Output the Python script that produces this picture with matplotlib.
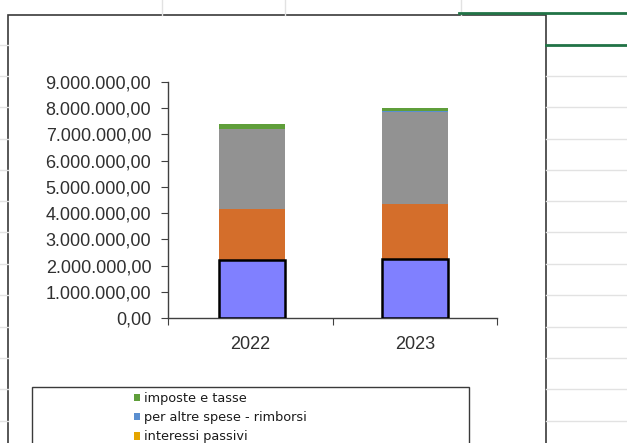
import matplotlib.pyplot as plt
from matplotlib.lines import Line2D
from matplotlib.patches import Rectangle, Patch
from matplotlib.ticker import FuncFormatter, MultipleLocator

plt.rcParams['font.family'] = ['Liberation Sans', 'DejaVu Sans']

years = ["2022", "2023"]
# stacked series, bottom to top (names of the lowest three are cut off in the source)
seriesNames = ["serie 1", "serie 2", "serie 3",
               "interessi passivi", "per altre spese - rimborsi", "imposte e tasse"]
redditi = [2200000, 2250000]
beniServizi = [1940000, 2100000]
trasferimenti = [3050000, 3490000]
interessi = [10000, 10000]
altreSpese = [10000, 60000]
imposte = [170000, 80000]
seriesVals = [redditi, beniServizi, trasferimenti, interessi, altreSpese, imposte]
seriesCols = ["#8080FF", "#D46E2B", "#929292", "#E5A500", "#5B8FD0", "#5F9E3A"]

W, H = 627, 443
fig = plt.figure(figsize=(W / 100, H / 100), dpi=100)

def px(x, y):
    return x / W, 1 - y / H

# spreadsheet background grid
gridCol = "#E2E2E2"
for y in [44.5, 76, 107, 138.5, 170, 201, 232.5, 264, 295, 326.5, 358, 389, 420.5]:
    fig.add_artist(Line2D([0, 8 / W], [1 - y / H] * 2, color=gridCol, lw=1))
    fig.add_artist(Line2D([546 / W, 1], [1 - y / H] * 2, color=gridCol, lw=1))
for x in [162, 285, 461]:
    fig.add_artist(Line2D([x / W] * 2, [1, 1 - 15 / H], color=gridCol, lw=1))
# selected cell
fig.add_artist(Line2D([459 / W, 1], [1 - 13 / H] * 2, color="#217346", lw=2))
fig.add_artist(Line2D([546 / W, 1], [1 - 45 / H] * 2, color="#217346", lw=2))

# chart area frame
x0, y0 = px(8, 460)
fig.add_artist(Rectangle((x0, y0), (546 - 8) / W, (460 - 15) / H, transform=fig.transFigure,
                         facecolor="white", edgecolor="#3A3A3A", lw=1.2, zorder=0))

ax = fig.add_axes([168 / W, 1 - 318 / H, (497 - 168) / W, (318 - 82) / H])
ax.set_facecolor("none")

positions = [0.01, 1.0]
bottoms = [0] * len(years)
handles = []
for i, (name, vals, col) in enumerate(zip(seriesNames, seriesVals, seriesCols)):
    if i == 0:
        ax.bar(positions, vals, bottom=bottoms, width=0.4, color=col, edgecolor="black", lw=1.8, zorder=3)
    else:
        ax.bar(positions, vals, bottom=bottoms, width=0.4, color=col, lw=0, zorder=2)
    bottoms = [b + v for b, v in zip(bottoms, vals)]
    handles.append(Patch(facecolor=col, label=name))

ax.set_xlim(-0.5, 1.5)
ax.set_ylim(0, 9000000)
ax.yaxis.set_major_locator(MultipleLocator(1000000))

def itFmt(v, pos):
    s = f"{v:,.2f}"
    return s.replace(",", "X").replace(".", ",").replace("X", ".")

ax.yaxis.set_major_formatter(FuncFormatter(itFmt))
ax.set_xticks([-0.5, 0.5, 1.5])
ax.set_xticklabels([])
ax.set_xticks([0, 1], minor=True)
ax.set_xticklabels(years, minor=True)
ax.tick_params(axis="x", which="minor", length=0, pad=13, labelsize=13, labelcolor="#303030")
ax.tick_params(axis="x", which="major", length=5, color="#404040")
ax.tick_params(axis="y", length=5, color="#404040", pad=7, labelsize=13, labelcolor="#303030")
for s in ["top", "right"]:
    ax.spines[s].set_visible(False)
for s in ["left", "bottom"]:
    ax.spines[s].set_color("#404040")
    ax.spines[s].set_linewidth(1)

# legend box (only the top three entries fit inside the visible area)
lx, ly = px(32, 470)
fig.add_artist(Rectangle((lx, ly), (469 - 32) / W, (470 - 387) / H, transform=fig.transFigure,
                         facecolor="white", edgecolor="#3A3A3A", lw=1, zorder=1))
fig.legend(handles=handles[::-1][:3], loc="upper left", bbox_to_anchor=px(131, 389.5), frameon=False,
           prop={"family": "DejaVu Sans", "size": 9.3}, labelcolor="#1A1A1A",
           handlelength=0.5, handleheight=0.5, handletextpad=0.3,
           labelspacing=0.48, borderaxespad=0, borderpad=0.2)

fig.savefig("out.png", dpi=100)
